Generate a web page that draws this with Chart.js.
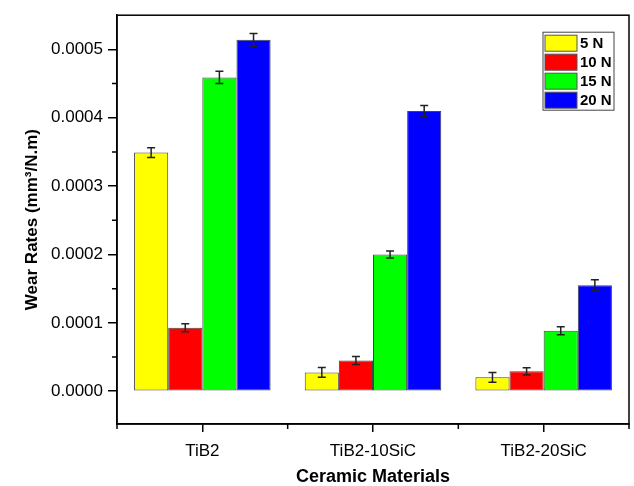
<!DOCTYPE html>
<html lang="en">
<head>
    <meta charset="UTF-8">
    <title>Wear Rates of Ceramic Materials</title>
    <script src="https://cdn.jsdelivr.net/npm/chart.js@4.4.1/dist/chart.umd.min.js"></script>
    <style>
        * {
            margin: 0;
            padding: 0;
            box-sizing: border-box;
        }

        body {
            background: #fff;
            width: 634px;
            height: 486px;
            overflow: hidden;
        }
    </style>
</head>
<body>
    <canvas id="wearChart" width="634" height="486"></canvas>

    <script>
        // Data
        const categories = ['TiB2', 'TiB2-10SiC', 'TiB2-20SiC'];
        const loads = ['5 N', '10 N', '15 N', '20 N'];
        const loadColors = ['#ffff00', '#ff0000', '#00ff00', '#0000ff'];

        const wear5N  = [0.000349, 0.0000275, 0.0000203];
        const wear10N = [0.0000928, 0.000045, 0.000029];
        const wear15N = [0.000459, 0.000200, 0.0000884];
        const wear20N = [0.000514, 0.000410, 0.000155];

        const err5N  = [0.0000072, 0.0000070, 0.0000072];
        const err10N = [0.0000060, 0.0000058, 0.0000054];
        const err15N = [0.0000090, 0.0000050, 0.0000058];
        const err20N = [0.0000094, 0.0000080, 0.0000080];

        const yTicks = [0, 0.0001, 0.0002, 0.0003, 0.0004, 0.0005];

        const series = [wear5N, wear10N, wear15N, wear20N];
        const errors = [err5N, err10N, err15N, err20N];

        const FONT = "'Liberation Sans', Arial, sans-serif";

        // error bars drawn through the scales
        const errorBars = {
            id: 'errorBars',
            afterDatasetsDraw(chart) {
                const ctx = chart.ctx;
                const y = chart.scales.y;
                ctx.save();
                ctx.strokeStyle = '#222';
                ctx.lineWidth = 1.5;
                chart.data.datasets.forEach((ds, i) => {
                    const meta = chart.getDatasetMeta(i);
                    meta.data.forEach((bar, j) => {
                        const v = ds.data[j];
                        const e = ds.errors[j];
                        const top = y.getPixelForValue(v + e);
                        const bot = y.getPixelForValue(v - e);
                        const cap = 4;
                        ctx.beginPath();
                        ctx.moveTo(bar.x, top);
                        ctx.lineTo(bar.x, bot);
                        ctx.moveTo(bar.x - cap, top);
                        ctx.lineTo(bar.x + cap, top);
                        ctx.moveTo(bar.x - cap, bot);
                        ctx.lineTo(bar.x + cap, bot);
                        ctx.stroke();
                    });
                });
                ctx.restore();
            }
        };

        // plot frame, minor ticks and the boxed legend inside the plot
        const frame = {
            id: 'frame',
            afterDraw(chart) {
                const ctx = chart.ctx;
                const a = chart.chartArea;
                const x = chart.scales.x;
                const y = chart.scales.y;
                ctx.save();
                ctx.strokeStyle = '#000';
                ctx.lineWidth = 1.5;
                ctx.strokeRect(a.left, a.top, a.right - a.left, a.bottom - a.top);

                // minor y ticks
                ctx.beginPath();
                for (let k = 0; k < yTicks.length; k++) {
                    const py = y.getPixelForValue(yTicks[k] + 0.00005);
                    if (py > a.top) {
                        ctx.moveTo(a.left, py);
                        ctx.lineTo(a.left - 5, py);
                    }
                }
                // minor x ticks at category boundaries
                for (let k = 0; k <= categories.length; k++) {
                    const px = x.getPixelForValue(k - 0.5);
                    ctx.moveTo(px, a.bottom);
                    ctx.lineTo(px, a.bottom + 5);
                }
                ctx.stroke();

                // legend
                const bx = a.right - 86, by = a.top + 17;
                const bw = 71, rowH = 19;
                ctx.lineWidth = 1;
                ctx.strokeStyle = '#444';
                ctx.fillStyle = '#fff';
                ctx.fillRect(bx, by, bw, rowH * loads.length + 2);
                ctx.strokeRect(bx, by, bw, rowH * loads.length + 2);
                ctx.font = 'bold 15px ' + FONT;
                ctx.textBaseline = 'middle';
                loads.forEach((lab, i) => {
                    const ry = by + 3 + i * rowH;
                    ctx.fillStyle = loadColors[i];
                    ctx.fillRect(bx + 2, ry, 32, 16);
                    ctx.strokeStyle = '#555';
                    ctx.strokeRect(bx + 2, ry, 32, 16);
                    ctx.fillStyle = '#000';
                    ctx.fillText(lab, bx + 37, ry + 9);
                });
                ctx.restore();
            }
        };

        new Chart(document.getElementById('wearChart'), {
            type: 'bar',
            data: {
                labels: categories,
                datasets: loads.map((lab, i) => ({
                    label: lab,
                    data: series[i],
                    errors: errors[i],
                    backgroundColor: loadColors[i],
                    borderColor: '#444',
                    borderWidth: 1,
                    borderSkipped: false,
                    categoryPercentage: 0.8,
                    barPercentage: 1.0
                }))
            },
            options: {
                responsive: false,
                animation: false,
                layout: {
                    padding: { top: 12, right: 5, left: 0, bottom: 0 }
                },
                plugins: {
                    legend: { display: false },
                    tooltip: { enabled: false }
                },
                scales: {
                    x: {
                        grid: {
                            offset: false,
                            drawOnChartArea: false,
                            tickLength: 8,
                            color: '#000',
                            lineWidth: 1.5
                        },
                        border: { color: '#000', width: 1.5 },
                        ticks: {
                            color: '#000',
                            padding: 9,
                            font: { family: FONT, size: 17 }
                        },
                        title: {
                            display: true,
                            text: 'Ceramic Materials',
                            color: '#000',
                            padding: { top: 0, bottom: 0 },
                            font: { family: FONT, size: 18, weight: 'bold', lineHeight: 1.0 }
                        },
                        afterFit(scale) { scale.height = 62; }
                    },
                    y: {
                        min: -0.000048,
                        max: 0.00055,
                        grid: {
                            drawOnChartArea: false,
                            tickLength: 9,
                            color: '#000',
                            lineWidth: 1.5
                        },
                        border: { color: '#000', width: 1.5 },
                        ticks: {
                            stepSize: 0.0001,
                            includeBounds: false,
                            color: '#000',
                            padding: 5,
                            font: { family: FONT, size: 17 },
                            callback: (v) => v.toFixed(4)
                        },
                        afterBuildTicks(scale) {
                            scale.ticks = yTicks.map(v => ({ value: v }));
                        },
                        title: {
                            display: true,
                            text: 'Wear Rates (mm³/N.m)',
                            color: '#000',
                            padding: { top: 22, bottom: 0 },
                            font: { family: FONT, size: 17, weight: 'bold' }
                        },
                        afterFit(scale) { scale.width = 117; }
                    }
                }
            },
            plugins: [errorBars, frame]
        });
    </script>
</body>
</html>
